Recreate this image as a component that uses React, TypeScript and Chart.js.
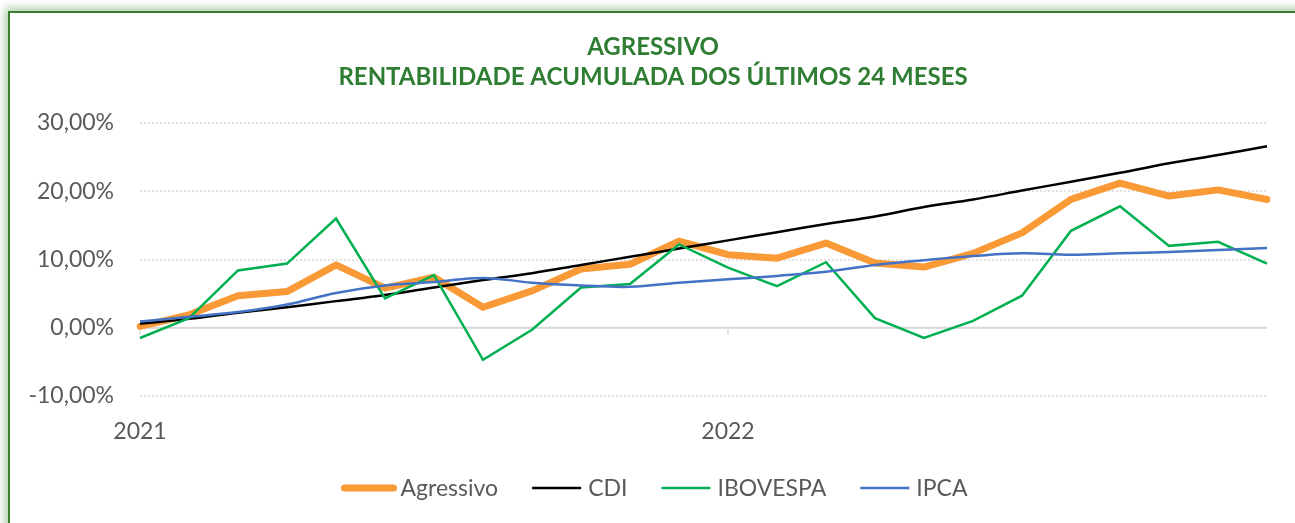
import React, { useEffect, useRef } from 'react';
import { Chart, registerables } from 'chart.js';

Chart.register(...registerables);

// ---- data ----
const months = [
  '2021-01', '2021-02', '2021-03', '2021-04', '2021-05', '2021-06',
  '2021-07', '2021-08', '2021-09', '2021-10', '2021-11', '2021-12',
  '2022-01', '2022-02', '2022-03', '2022-04', '2022-05', '2022-06',
  '2022-07', '2022-08', '2022-09', '2022-10', '2022-11', '2022-12',
];
const agressivo = [0.2, 1.9, 4.7, 5.3, 9.2, 5.8, 7.4, 3.0, 5.4, 8.6, 9.3, 12.7, 10.7, 10.2, 12.4, 9.5, 8.9, 10.9, 13.9, 18.8, 21.2, 19.3, 20.2, 18.8];
const cdi = [0.6, 1.3, 2.2, 3.0, 3.9, 4.8, 5.9, 7.0, 8.0, 9.2, 10.4, 11.6, 12.8, 14.0, 15.2, 16.3, 17.7, 18.8, 20.1, 21.4, 22.7, 24.1, 25.3, 26.6];
const ibovespa = [-1.5, 1.4, 8.4, 9.4, 16.0, 4.3, 7.7, -4.7, -0.3, 5.9, 6.4, 12.2, 8.8, 6.1, 9.6, 1.4, -1.5, 1.0, 4.7, 14.2, 17.8, 12.0, 12.6, 9.4];
const ipca = [0.9, 1.6, 2.3, 3.4, 5.1, 6.2, 6.7, 7.3, 6.6, 6.2, 6.0, 6.6, 7.1, 7.6, 8.2, 9.2, 9.9, 10.5, 10.9, 10.7, 10.9, 11.1, 11.4, 11.7];
const seriesNames = ['Agressivo', 'CDI', 'IBOVESPA', 'IPCA'];
const titleLines = ['AGRESSIVO', 'RENTABILIDADE ACUMULADA DOS ÚLTIMOS 24 MESES'];
const yMin = -10;
const yMax = 30;
const yStep = 10;

// ---- style ----
const FONT = 'Lato';
const TEXT_GRAY = '#595959';
const TITLE_GREEN = '#2E7D32';
const CANVAS_W = 1306;
const CANVAS_H = 523;
const LEGEND_CENTER = 656;
const LEGEND_FROM_BOTTOM = 35;
const LEG_LINE = 49;
const LEG_GAP = 7;
const LEG_SPACING = 34;

const yearOf = (i: number) => (months[i].endsWith('-01') ? months[i].slice(0, 4) : '');

const zeroAxisPlugin = {
  id: 'zeroAxis',
  beforeDatasetsDraw(chart: any) {
    const { ctx, chartArea, scales } = chart;
    const y0 = scales.y.getPixelForValue(0);
    ctx.save();
    ctx.strokeStyle = '#d9d9d9';
    ctx.lineWidth = 2;
    ctx.beginPath();
    ctx.moveTo(chartArea.left, y0);
    ctx.lineTo(chartArea.right, y0);
    ctx.stroke();
    ctx.lineWidth = 1.5;
    ctx.beginPath();
    months.forEach((_, i) => {
      if (yearOf(i)) {
        const x = scales.x.getPixelForValue(i);
        ctx.moveTo(x, y0);
        ctx.lineTo(x, y0 + 7);
      }
    });
    ctx.stroke();
    ctx.restore();
  },
};

const lineLegendPlugin = {
  id: 'lineLegend',
  afterDraw(chart: any) {
    const { ctx } = chart;
    const list = chart.data.datasets;
    ctx.save();
    ctx.font = `23px ${FONT}`;
    const widths = list.map((d: any) => ctx.measureText(d.label).width);
    const total =
      widths.reduce((a: number, w: number) => a + LEG_LINE + LEG_GAP + w, 0) +
      LEG_SPACING * (list.length - 1);
    let x = LEGEND_CENTER - total / 2;
    const y = chart.height - LEGEND_FROM_BOTTOM;
    list.forEach((d: any, i: number) => {
      ctx.beginPath();
      ctx.strokeStyle = d.borderColor;
      ctx.lineWidth = d.borderWidth;
      ctx.lineCap = d.borderWidth > 4 ? 'round' : 'butt';
      ctx.moveTo(x, y);
      ctx.lineTo(x + LEG_LINE, y);
      ctx.stroke();
      x += LEG_LINE + LEG_GAP;
      ctx.fillStyle = TEXT_GRAY;
      ctx.textBaseline = 'middle';
      ctx.textAlign = 'left';
      ctx.fillText(d.label, x, y + 1);
      x += widths[i] + LEG_SPACING;
    });
    ctx.restore();
  },
};

export default function App() {
  const canvasRef = useRef<HTMLCanvasElement | null>(null);

  useEffect(() => {
    if (!canvasRef.current) return;
    const chart = new Chart(canvasRef.current, {
      type: 'line',
      data: {
        labels: months,
        datasets: [
          {
            label: seriesNames[0],
            data: agressivo,
            borderColor: '#F99A36',
            backgroundColor: '#F99A36',
            borderWidth: 7,
            borderJoinStyle: 'round',
            borderCapStyle: 'round',
            pointRadius: 0,
            tension: 0,
            order: 4,
          },
          {
            label: seriesNames[1],
            data: cdi,
            borderColor: '#000000',
            backgroundColor: '#000000',
            borderWidth: 2.5,
            pointRadius: 0,
            tension: 0.4,
            order: 3,
          },
          {
            label: seriesNames[2],
            data: ibovespa,
            borderColor: '#00B050',
            backgroundColor: '#00B050',
            borderWidth: 2.5,
            pointRadius: 0,
            tension: 0,
            order: 2,
          },
          {
            label: seriesNames[3],
            data: ipca,
            borderColor: '#4472C4',
            backgroundColor: '#4472C4',
            borderWidth: 2.5,
            pointRadius: 0,
            tension: 0.4,
            order: 1,
          },
        ],
      },
      options: {
        animation: false,
        responsive: false,
        devicePixelRatio: 1,
        layout: { padding: { left: 0, right: 0, top: 0, bottom: 67 } },
        plugins: {
          legend: { display: false },
          tooltip: { enabled: false },
          title: {
            display: true,
            text: titleLines,
            color: TITLE_GREEN,
            font: { family: FONT, size: 24, weight: 'bold', lineHeight: 30 / 24 },
            padding: { top: 32, bottom: 31 },
          },
        },
        scales: {
          x: {
            type: 'category',
            offset: false,
            grid: { display: false, drawTicks: false },
            border: { display: false },
            ticks: {
              autoSkip: false,
              maxRotation: 0,
              minRotation: 0,
              padding: 22,
              color: TEXT_GRAY,
              font: { family: FONT, size: 23 },
              callback: (_v: any, i: number) => yearOf(i),
            },
            afterFit: (s: any) => {
              s.height = 60;
            },
          },
          y: {
            min: yMin,
            max: yMax,
            ticks: {
              stepSize: yStep,
              padding: 26,
              color: TEXT_GRAY,
              font: { family: FONT, size: 23 },
              callback: (v: any) => `${Number(v).toFixed(2).replace('.', ',')}%`,
            },
            grid: { color: '#e0e0e0', lineWidth: 2, drawTicks: false },
            border: { display: false, dash: [2, 2] },
            afterFit: (s: any) => {
              s.width = 140;
            },
          },
          yRight: {
            position: 'right',
            display: true,
            min: yMin,
            max: yMax,
            grid: { display: false, drawTicks: false },
            border: { display: false },
            ticks: { display: false },
            afterFit: (s: any) => {
              s.width = 39;
            },
          },
        },
      },
      plugins: [zeroAxisPlugin, lineLegendPlugin],
    } as any);
    return () => chart.destroy();
  }, []);

  return (
    <div
      style={{
        position: 'fixed',
        left: 0,
        top: 0,
        width: 1295,
        height: 523,
        overflow: 'hidden',
        background: '#ffffff',
      }}
    >
      <div
        style={{
          position: 'absolute',
          left: 8,
          top: 11,
          width: 1400,
          height: 700,
          borderLeft: '2px solid #3A7D2C',
          borderTop: '2px solid #3A7D2C',
          boxShadow: '0 0 8px 3px rgba(70,150,60,0.45)',
          background: '#ffffff',
        }}
      />
      <canvas
        ref={canvasRef}
        width={CANVAS_W}
        height={CANVAS_H}
        style={{ position: 'absolute', left: 0, top: 0, width: CANVAS_W, height: CANVAS_H }}
      />
    </div>
  );
}
